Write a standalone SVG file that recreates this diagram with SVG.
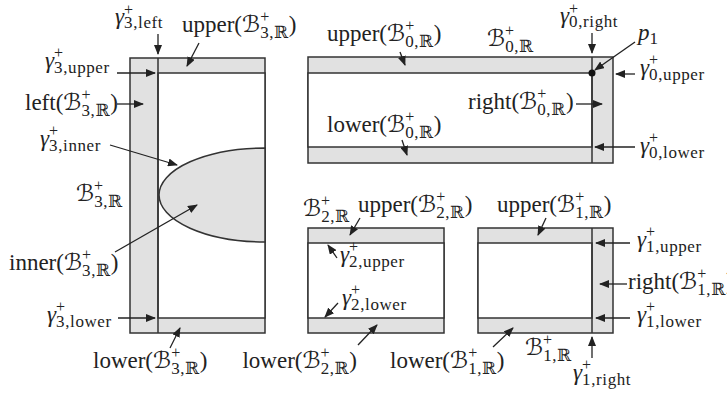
<svg xmlns="http://www.w3.org/2000/svg" width="727" height="393" viewBox="0 0 727 393">
<style>
.bg{fill:#e1e1e1;stroke:#333;stroke-width:1.5}
.wh{fill:#fff;stroke:#333;stroke-width:1.5}
.ln{stroke:#333;stroke-width:1.5;fill:none}
.ar{stroke:#222;stroke-width:1.3;fill:none;marker-end:url(#ah)}
text{font-family:"Liberation Serif","DejaVu Serif",serif;font-size:23px;fill:#222}
.g{font-style:italic}
.m{font-family:"DejaVu Serif","DejaVu Sans",serif}
.sp{font-size:16px}
.sb{font-size:17px;letter-spacing:0.6px}
</style>
<defs>
<marker id="ah" markerUnits="userSpaceOnUse" markerWidth="10" markerHeight="8" refX="9" refY="4" orient="auto">
<path d="M0,0 L10,4 L0,8 z" fill="#222"/>
</marker>
</defs>

<g id="B3">
<rect class="bg" x="130" y="58" width="135" height="275"/>
<rect class="wh" x="158" y="73" width="107" height="245"/>
<path class="bg" d="M265,148 A106,47 0 0 0 265,242 Z"/>
<line class="ln" x1="158" y1="58" x2="158" y2="333"/>
</g>

<g id="B0">
<rect class="bg" x="308" y="57" width="305" height="106"/>
<rect class="wh" x="308" y="73" width="284" height="74"/>
<line class="ln" x1="592" y1="57" x2="592" y2="163"/>
<circle cx="592" cy="73" r="3.5" fill="#111"/>
</g>

<g id="B2">
<rect class="bg" x="308" y="228" width="136" height="105"/>
<rect class="wh" x="308" y="243" width="136" height="75"/>
</g>

<g id="B1">
<rect class="bg" x="478" y="228" width="135" height="105"/>
<rect class="wh" x="478" y="243" width="114" height="75"/>
<line class="ln" x1="592" y1="228" x2="592" y2="333"/>
</g>

<g id="connectors">
<line class="ar" x1="158" y1="34" x2="158" y2="54"/>
<line class="ar" x1="199" y1="43" x2="187" y2="66"/>
<line class="ar" x1="117" y1="73" x2="155" y2="73"/>
<line class="ar" x1="117" y1="104" x2="143" y2="104"/>
<line class="ar" x1="110" y1="145" x2="177" y2="165"/>
<line class="ar" x1="115" y1="252" x2="197" y2="205"/>
<line class="ar" x1="118" y1="318" x2="155" y2="318"/>
<line class="ar" x1="170" y1="348" x2="180" y2="328"/>
<line class="ar" x1="400" y1="52" x2="405" y2="65"/>
<line class="ar" x1="402" y1="140" x2="407" y2="155"/>
<line class="ar" x1="592" y1="33" x2="592" y2="53"/>
<line class="ar" x1="635" y1="42" x2="595" y2="70"/>
<line class="ar" x1="635" y1="74" x2="616" y2="74"/>
<line class="ar" x1="576" y1="104" x2="602" y2="104"/>
<line class="ar" x1="635" y1="147" x2="595" y2="147"/>
<line class="ar" x1="360" y1="218" x2="350" y2="235"/>
<line class="ar" x1="337" y1="258" x2="328" y2="245"/>
<line class="ar" x1="338" y1="303" x2="325" y2="317"/>
<line class="ar" x1="358" y1="345" x2="377" y2="325"/>
<line class="ar" x1="493" y1="347" x2="513" y2="328"/>
<line class="ar" x1="546" y1="218" x2="538" y2="235"/>
<line class="ar" x1="630" y1="243" x2="596" y2="243"/>
<line class="ar" x1="627" y1="284" x2="600" y2="284"/>
<line class="ar" x1="630" y1="318" x2="596" y2="318"/>
<line class="ar" x1="592" y1="358" x2="592" y2="337"/>
</g>

<g id="labels">
<text x="115" y="24"><tspan class="g">γ</tspan><tspan class="sp" dy="-9">+</tspan><tspan class="sb" dx="-9" dy="13">3,left</tspan></text>
<text x="182" y="32">upper(<tspan class="m">ℬ</tspan><tspan class="sp" dy="-10">+</tspan><tspan class="sb" dx="-9" dy="16">3,<tspan class="m">ℝ</tspan></tspan><tspan dy="-6">)</tspan></text>
<text x="45" y="68"><tspan class="g">γ</tspan><tspan class="sp" dy="-10">+</tspan><tspan class="sb" dx="-9" dy="15">3,upper</tspan></text>
<text x="25" y="110">left(<tspan class="m">ℬ</tspan><tspan class="sp" dy="-10">+</tspan><tspan class="sb" dx="-9" dy="16">3,<tspan class="m">ℝ</tspan></tspan><tspan dy="-6">)</tspan></text>
<text x="40" y="146"><tspan class="g">γ</tspan><tspan class="sp" dy="-10">+</tspan><tspan class="sb" dx="-9" dy="15">3,inner</tspan></text>
<text x="76" y="201"><tspan class="m">ℬ</tspan><tspan class="sp" dy="-10">+</tspan><tspan class="sb" dx="-9" dy="16">3,<tspan class="m">ℝ</tspan></tspan></text>
<text x="9" y="270">inner(<tspan class="m">ℬ</tspan><tspan class="sp" dy="-10">+</tspan><tspan class="sb" dx="-9" dy="16">3,<tspan class="m">ℝ</tspan></tspan><tspan dy="-6">)</tspan></text>
<text x="47" y="322"><tspan class="g">γ</tspan><tspan class="sp" dy="-10">+</tspan><tspan class="sb" dx="-9" dy="15">3,lower</tspan></text>
<text x="93" y="368">lower(<tspan class="m">ℬ</tspan><tspan class="sp" dy="-10">+</tspan><tspan class="sb" dx="-9" dy="16">3,<tspan class="m">ℝ</tspan></tspan><tspan dy="-6">)</tspan></text>

<text x="327" y="41">upper(<tspan class="m">ℬ</tspan><tspan class="sp" dy="-10">+</tspan><tspan class="sb" dx="-9" dy="16">0,<tspan class="m">ℝ</tspan></tspan><tspan dy="-6">)</tspan></text>
<text x="487" y="46"><tspan class="m">ℬ</tspan><tspan class="sp" dy="-10">+</tspan><tspan class="sb" dx="-9" dy="16">0,<tspan class="m">ℝ</tspan></tspan></text>
<text x="560" y="23"><tspan class="g">γ</tspan><tspan class="sp" dy="-9">+</tspan><tspan class="sb" dx="-9" dy="13">0,right</tspan></text>
<text x="638" y="40"><tspan class="g">p</tspan><tspan class="sb" dy="4">1</tspan></text>
<text x="640" y="75"><tspan class="g">γ</tspan><tspan class="sp" dy="-10">+</tspan><tspan class="sb" dx="-9" dy="15">0,upper</tspan></text>
<text x="468" y="109">right(<tspan class="m">ℬ</tspan><tspan class="sp" dy="-10">+</tspan><tspan class="sb" dx="-9" dy="16">0,<tspan class="m">ℝ</tspan></tspan><tspan dy="-6">)</tspan></text>
<text x="327" y="132">lower(<tspan class="m">ℬ</tspan><tspan class="sp" dy="-10">+</tspan><tspan class="sb" dx="-9" dy="16">0,<tspan class="m">ℝ</tspan></tspan><tspan dy="-6">)</tspan></text>
<text x="640" y="153"><tspan class="g">γ</tspan><tspan class="sp" dy="-10">+</tspan><tspan class="sb" dx="-9" dy="15">0,lower</tspan></text>

<text x="303" y="216"><tspan class="m">ℬ</tspan><tspan class="sp" dy="-10">+</tspan><tspan class="sb" dx="-9" dy="16">2,<tspan class="m">ℝ</tspan></tspan></text>
<text x="358" y="212">upper(<tspan class="m">ℬ</tspan><tspan class="sp" dy="-10">+</tspan><tspan class="sb" dx="-9" dy="16">2,<tspan class="m">ℝ</tspan></tspan><tspan dy="-6">)</tspan></text>
<text x="340" y="262"><tspan class="g">γ</tspan><tspan class="sp" dy="-10">+</tspan><tspan class="sb" dx="-9" dy="15">2,upper</tspan></text>
<text x="342" y="305"><tspan class="g">γ</tspan><tspan class="sp" dy="-10">+</tspan><tspan class="sb" dx="-9" dy="15">2,lower</tspan></text>
<text x="357" y="368" text-anchor="end">lower(<tspan class="m">ℬ</tspan><tspan class="sp" dy="-10">+</tspan><tspan class="sb" dx="-9" dy="16">2,<tspan class="m">ℝ</tspan></tspan><tspan dy="-6">)</tspan></text>
<text x="390" y="368">lower(<tspan class="m">ℬ</tspan><tspan class="sp" dy="-10">+</tspan><tspan class="sb" dx="-9" dy="16">1,<tspan class="m">ℝ</tspan></tspan><tspan dy="-6">)</tspan></text>

<text x="497" y="212">upper(<tspan class="m">ℬ</tspan><tspan class="sp" dy="-10">+</tspan><tspan class="sb" dx="-9" dy="16">1,<tspan class="m">ℝ</tspan></tspan><tspan dy="-6">)</tspan></text>
<text x="637" y="247"><tspan class="g">γ</tspan><tspan class="sp" dy="-10">+</tspan><tspan class="sb" dx="-9" dy="15">1,upper</tspan></text>
<text x="628" y="289">right(<tspan class="m">ℬ</tspan><tspan class="sp" dy="-10">+</tspan><tspan class="sb" dx="-9" dy="16">1,<tspan class="m">ℝ</tspan></tspan><tspan dy="-6">)</tspan></text>
<text x="637" y="322"><tspan class="g">γ</tspan><tspan class="sp" dy="-10">+</tspan><tspan class="sb" dx="-9" dy="15">1,lower</tspan></text>
<text x="525" y="355"><tspan class="m">ℬ</tspan><tspan class="sp" dy="-10">+</tspan><tspan class="sb" dx="-9" dy="16">1,<tspan class="m">ℝ</tspan></tspan></text>
<text x="573" y="380"><tspan class="g">γ</tspan><tspan class="sp" dy="-10">+</tspan><tspan class="sb" dx="-9" dy="15">1,right</tspan></text>
</g>
</svg>
